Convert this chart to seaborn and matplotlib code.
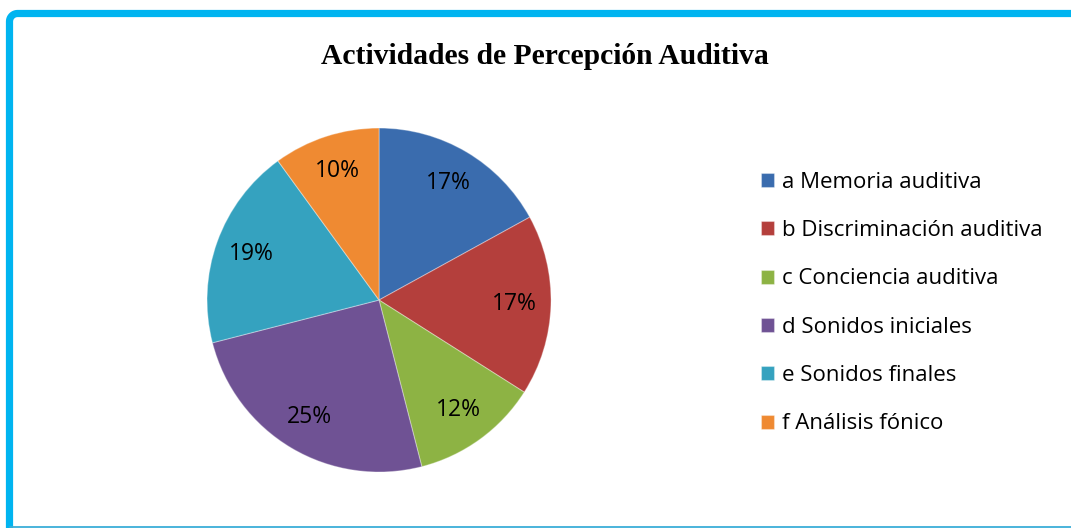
import matplotlib
matplotlib.use("Agg")
import numpy as np
import matplotlib.pyplot as plt
import seaborn as sns
from matplotlib.lines import Line2D

categorias = ["a Memoria auditiva", "b Discriminación auditiva", "c Conciencia auditiva",
              "d Sonidos iniciales", "e Sonidos finales", "f Análisis fónico"]
porcentajes = [17, 17, 12, 25, 19, 10]
colores = ["#3a6cae", "#b43f3c", "#8db344", "#6f5294", "#35a2bf", "#ef8a32"]
titulo = "Actividades de Percepción Auditiva"

sns.set_theme(style="white")
plt.rcParams["font.family"] = ["Open Sans", "DejaVu Sans"]
plt.rcParams["text.color"] = "black"

W, H = 1071, 528
fig = plt.figure(figsize=(W / 100, H / 100), dpi=100)
ax = fig.add_axes([0.1933, 0.106, 0.3212, 0.6515])

wedges, texts, autotexts = ax.pie(
    porcentajes,
    colors=sns.color_palette(colores),
    startangle=90,
    counterclock=False,
    autopct="%d%%",
    pctdistance=0.79,
    radius=1,
    wedgeprops=dict(linewidth=0.8, edgecolor="#ffffff55"),
    textprops=dict(fontsize=16.5, color="black"),
)
ax.set_xlim(-1.0, 1.0)
ax.set_ylim(-1.0, 1.0)
ax.axis("off")

fig.text(0.509, 1 - 56 / H, titulo, ha="center", va="center", fontsize=21.3,
         fontweight="bold", color="black", family=["Liberation Serif", "DejaVu Serif"])

fig.legend(wedges, categorias, loc="center left", bbox_to_anchor=(0.7105, 0.426),
           frameon=False, fontsize=16, handlelength=0.6, handleheight=0.6,
           handletextpad=0.35, labelspacing=1.23, borderpad=0, borderaxespad=0)

# marco del gráfico: borde izquierdo y superior con esquina redondeada
x0, y0, r = 9.5, 13.5, 8
t = np.linspace(np.pi, np.pi / 2, 12)
px = np.concatenate([[x0], x0 + r + r * np.cos(t), [W]])
py = np.concatenate([[H], y0 + r - r * np.sin(t), [y0]])
fig.add_artist(Line2D(px / W, 1 - py / H, transform=fig.transFigure,
                      color="#00b4f0", linewidth=5.2, solid_joinstyle="round",
                      solid_capstyle="butt"))
fig.add_artist(Line2D([x0 / W, 1], [1.0 / H, 1.0 / H], transform=fig.transFigure,
                      color="#3aaed8", linewidth=1.3))

fig.savefig("out.png", dpi=100)
